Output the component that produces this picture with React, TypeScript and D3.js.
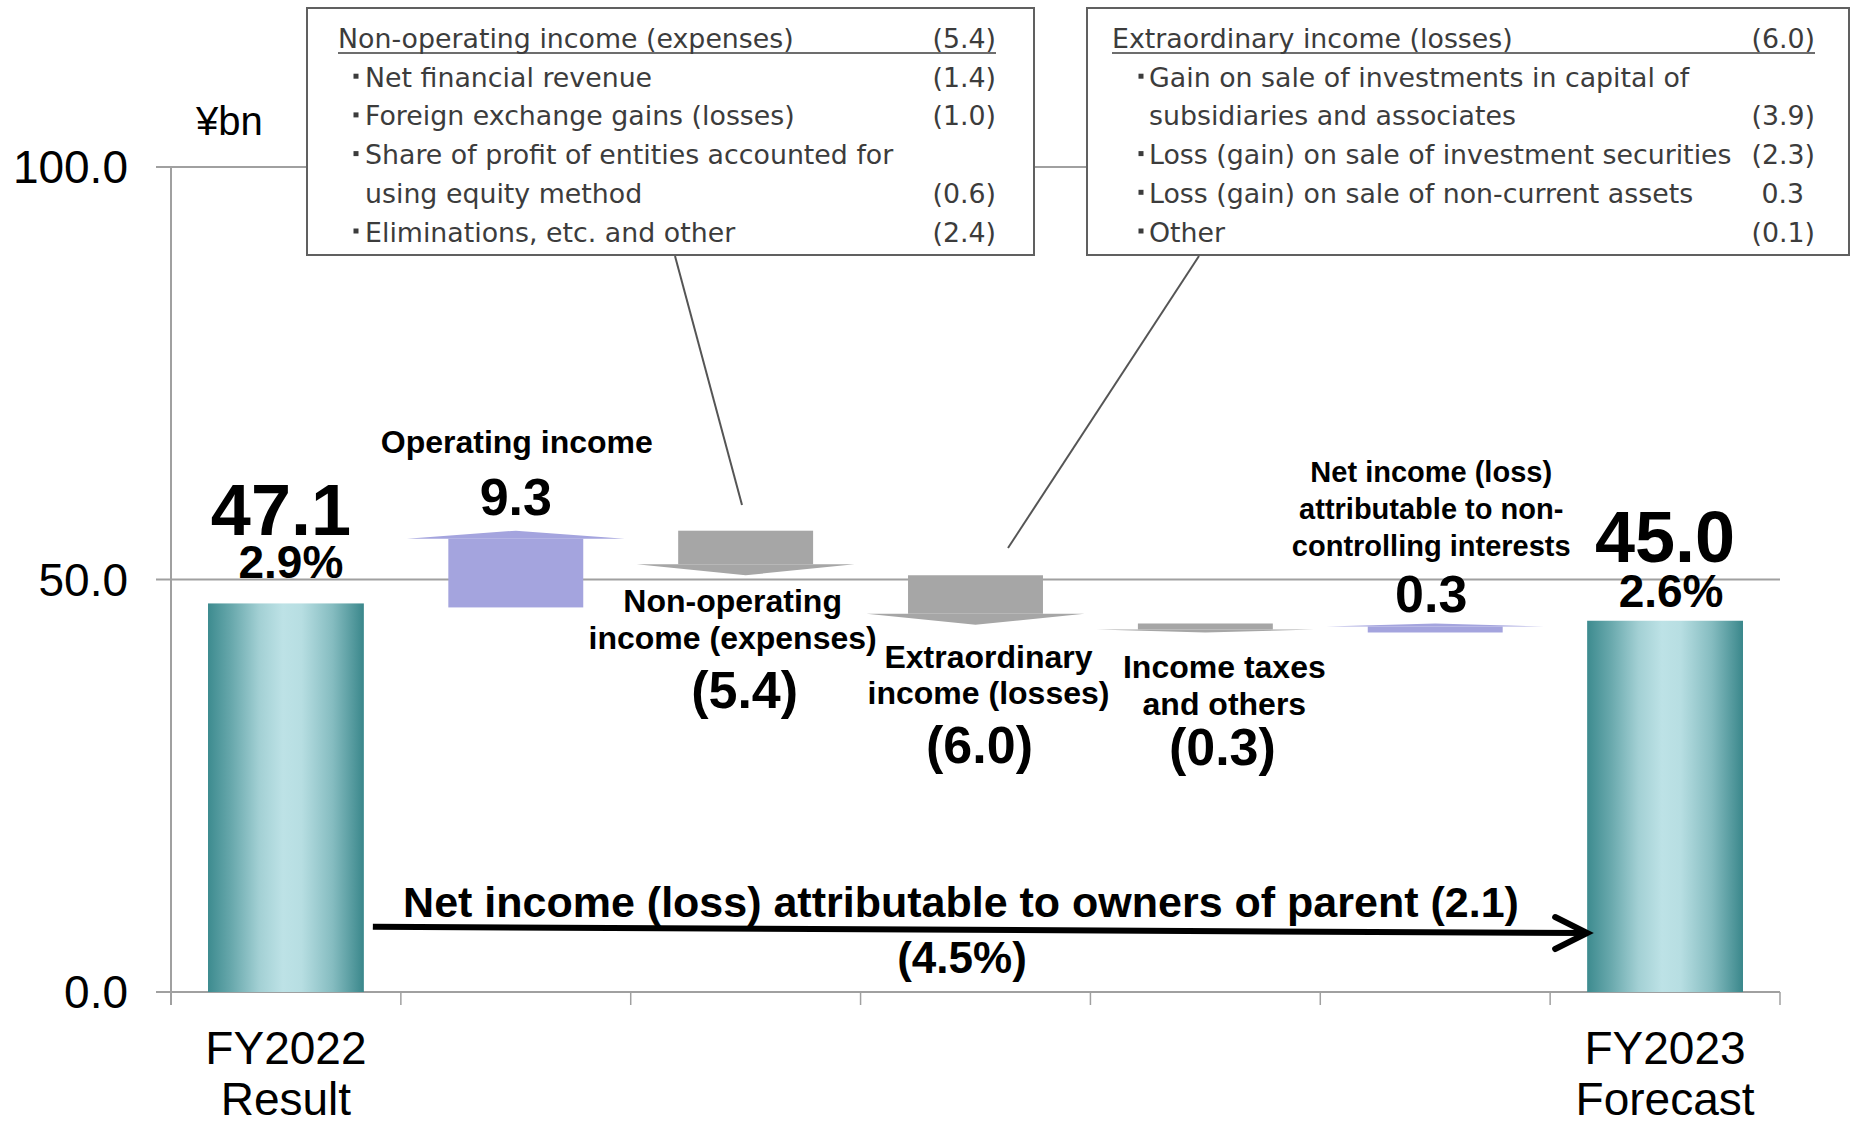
import React from "react";
import * as d3 from "d3";

// ---------- data ----------
const categories = [
  "FY2022 Result",
  "Operating income",
  "Non-operating income (expenses)",
  "Extraordinary income (losses)",
  "Income taxes and others",
  "Net income (loss) attributable to non-controlling interests",
  "FY2023 Forecast",
];
const categoryLines = [
  ["FY2022", "Result"],
  ["Operating income"],
  ["Non-operating", "income (expenses)"],
  ["Extraordinary", "income (losses)"],
  ["Income taxes", "and others"],
  ["Net income (loss)", "attributable to non-", "controlling interests"],
  ["FY2023", "Forecast"],
];
const values = [47.1, 9.3, -5.4, -6.0, -0.3, 0.3, 45.0];
const kinds = ["total", "delta", "delta", "delta", "delta", "delta", "total"];
const marginLabels = ["2.9%", "", "", "", "", "", "2.6%"];
const yTicks = [0, 50, 100];
const unitLabel = "¥bn";
const netChangeLabel = "Net income (loss) attributable to owners of parent";

const nonOpTitle = "Non-operating income (expenses)";
const nonOpTotal = "(5.4)";
const nonOpLabels = [
  "Net financial revenue",
  "Foreign exchange gains (losses)",
  "Share of profit of entities accounted for",
  "using equity method",
  "Eliminations, etc. and other",
];
const nonOpBullets = [true, true, true, false, true];
const nonOpValues = ["(1.4)", "(1.0)", "", "(0.6)", "(2.4)"];

const extraTitle = "Extraordinary income (losses)";
const extraTotal = "(6.0)";
const extraLabels = [
  "Gain on sale of investments in capital of",
  "subsidiaries and associates",
  "Loss (gain) on sale of investment securities",
  "Loss (gain) on sale of non-current assets",
  "Other",
];
const extraBullets = [true, false, true, true, true];
const extraValues = ["", "(3.9)", "(2.3)", "0.3", "(0.1)"];

// ---------- styling / layout ----------
const W = 1851;
const H = 1125;
const SANS = "'Liberation Sans', Arial, Helvetica, sans-serif";
const BOXF = "'DejaVu Sans', sans-serif";
const GRID = "#a0a0a0";
const UP = "#a4a4de";
const DOWN = "#a6a6a6";
const BOXTXT = "#3c3c3c";
const BOXFS = 26.8;

const fmtVal = (v: number) => (v < 0 ? `(${Math.abs(v).toFixed(1)})` : v.toFixed(1));

// label offsets relative to band centre / arrow end
const deltaLabelLayout: Record<number, any> = {
  1: { ndx: 1, ndy: -74, vdx: 0, vdy: -12, size: 32 },
  2: { ndx: -13, ndy: 41, vdx: -1, vdy: 137, size: 32 },
  3: { ndx: 13, ndy: 47, vdx: 4, vdy: 142, size: 32 },
  4: { ndx: 19, ndy: 55, vdx: 17, vdy: 142, size: 32 },
  5: { ndx: -4, ndy: -139, vdx: -4, vdy: -9, size: 29 },
};
const totalLabelLayout: Record<number, any> = {
  0: { vdx: -5, vdy: -68, pdx: 5, pdy: -25 },
  6: { vdx: 0, vdy: -59, pdx: 6, pdy: -14 },
};

function Box({ x0, x1, y0, y1, title, total, labels, bullets, vals, insets }: any) {
  const rowStep = 38.7;
  const headerY = y0 + 40;
  const valRight = x1 - insets.right;
  return (
    <g>
      <rect x={x0} y={y0} width={x1 - x0} height={y1 - y0} fill="#fff" stroke="#606060" strokeWidth={2} />
      <text x={x0 + insets.header} y={headerY} fontFamily={BOXF} fontSize={BOXFS} fill={BOXTXT}>{title}</text>
      <text x={valRight} y={headerY} fontFamily={BOXF} fontSize={BOXFS} fill={BOXTXT} textAnchor="end">{total}</text>
      <line x1={x0 + insets.header} x2={valRight} y1={headerY + 5} y2={headerY + 5} stroke={BOXTXT} strokeWidth={1.5} />
      {labels.map((t: string, i: number) => {
        const yy = headerY + rowStep * (i + 1);
        const v = vals[i];
        const shift = v && !v.endsWith(")") ? 11 : 0;
        return (
          <g key={i}>
            {bullets[i] && (
              <rect x={x0 + insets.bullet - 2.5} y={yy - 13} width={5} height={5} fill={BOXTXT} />
            )}
            <text x={x0 + insets.text} y={yy} fontFamily={BOXF} fontSize={BOXFS} fill={BOXTXT}>{t}</text>
            {v && (
              <text x={valRight - shift} y={yy} fontFamily={BOXF} fontSize={BOXFS} fill={BOXTXT} textAnchor="end">{v}</text>
            )}
          </g>
        );
      })}
    </g>
  );
}

export default function App() {
  const y = d3.scaleLinear().domain([0, 100]).range([992, 167]);
  const x = d3.scaleBand<string>().domain(categories).range([171, 1780]);
  const bw = x.bandwidth();
  const cxOf = (i: number) => (x(categories[i]) as number) + bw / 2;

  let run = 0;
  const steps = values.map((v, i) => {
    if (kinds[i] === "total") {
      run = v;
      return { start: 0, end: v };
    }
    const s = run;
    run = run + v;
    return { start: s, end: run };
  });

  const OFF = 4;
  const arrowShapes = steps.map((s, i) => {
    if (kinds[i] !== "delta") return null;
    const cx = cxOf(i);
    const bodyW = bw * 0.587;
    const headW = bw * 0.948;
    const up = s.end > s.start;
    const y0 = y(s.start) + OFF;
    const y1 = y(s.end) + OFF;
    const L = Math.abs(y1 - y0);
    const hh = up ? 8 : 11;
    let bodyA: number, bodyB: number, shoulder: number, tip: number;
    if (L >= hh + 6) {
      tip = y1;
      shoulder = up ? y1 + hh : y1 - hh;
      bodyA = y0;
      bodyB = shoulder;
    } else {
      const mid = (y0 + y1) / 2 + 2;
      const top = mid - 4.5;
      if (up) {
        tip = top;
        shoulder = top + 3;
        bodyA = top + 9;
        bodyB = shoulder;
      } else {
        bodyA = top;
        bodyB = top + 6;
        shoulder = bodyB;
        tip = bodyB + 3;
      }
    }
    const by0 = Math.min(bodyA, bodyB);
    const by1 = Math.max(bodyA, bodyB);
    return {
      i,
      color: up ? UP : DOWN,
      body: { x: cx - bodyW / 2, y: by0, w: bodyW, h: by1 - by0 },
      head: `M${cx - headW / 2},${shoulder}L${cx},${tip}L${cx + headW / 2},${shoulder}Z`,
    };
  });

  const netChange = values[6] - values[0];
  const netPct = (netChange / values[0]) * 100;
  const netText = `${netChangeLabel} ${fmtVal(netChange)}`;
  const netPctText = netPct < 0 ? `(${Math.abs(netPct).toFixed(1)}%)` : `${netPct.toFixed(1)}%`;

  const barW = bw * 0.678;
  const axisLeft = 171;
  const axisRight = 1780;

  // bottom connecting arrow
  const arrX0 = cxOf(0) + barW / 2 + 9;
  const arrX1 = cxOf(6) - barW / 2;
  const arrY0 = y(7.9);
  const arrY1 = y(7.15);

  return (
    <svg width={W} height={H} style={{ position: "absolute", left: 0, top: 0, display: "block", background: "#fff" }}>
      <defs>
        <linearGradient id="tealGrad" x1="0" x2="1" y1="0" y2="0">
          <stop offset="0" stopColor="#3d8b8f" />
          <stop offset="0.15" stopColor="#68a8ac" />
          <stop offset="0.33" stopColor="#a3d0d4" />
          <stop offset="0.48" stopColor="#bde2e6" />
          <stop offset="0.6" stopColor="#b7dee2" />
          <stop offset="0.8" stopColor="#85bcc0" />
          <stop offset="1" stopColor="#3a878b" />
        </linearGradient>
      </defs>

      {/* gridlines */}
      {yTicks.map((t) => (
        <line key={t} x1={156} x2={axisRight} y1={y(t)} y2={y(t)} stroke={GRID} strokeWidth={2} />
      ))}
      <line x1={axisLeft} x2={axisLeft} y1={y(100)} y2={y(0) + 13} stroke={GRID} strokeWidth={2} />
      {d3.range(categories.length + 1).map((k) => {
        const xx = k < categories.length ? (x(categories[k]) as number) : axisRight;
        return <line key={k} x1={xx} x2={xx} y1={y(0)} y2={y(0) + 13} stroke={GRID} strokeWidth={1.5} />;
      })}
      {yTicks.map((t) => (
        <text key={t} x={128} y={y(t) + 16} textAnchor="end" fontFamily={SANS} fontSize={46} fill="#000">
          {d3.format(".1f")(t)}
        </text>
      ))}
      <text x={196} y={135} fontFamily={SANS} fontSize={40} fill="#000">{unitLabel}</text>

      {/* total bars */}
      {steps.map((s, i) =>
        kinds[i] === "total" ? (
          <rect key={i} x={cxOf(i) - barW / 2} y={y(s.end)} width={barW} height={y(0) - y(s.end)} fill="url(#tealGrad)" />
        ) : null
      )}

      {/* delta arrows */}
      {arrowShapes.map((a) =>
        a ? (
          <g key={a.i}>
            <rect x={a.body.x} y={a.body.y} width={a.body.w} height={a.body.h} fill={a.color} />
            <path d={a.head} fill={a.color} />
          </g>
        ) : null
      )}

      {/* callout boxes */}
      <line x1={675} y1={256} x2={742} y2={505} stroke="#555" strokeWidth={2} />
      <line x1={1199} y1={256} x2={1008} y2={548} stroke="#555" strokeWidth={2} />
      <Box x0={307} x1={1034} y0={8} y1={255} title={nonOpTitle} total={nonOpTotal} labels={nonOpLabels}
        bullets={nonOpBullets} vals={nonOpValues} insets={{ header: 31, bullet: 49, text: 58, right: 38 }} />
      <Box x0={1087} x1={1849} y0={8} y1={255} title={extraTitle} total={extraTotal} labels={extraLabels}
        bullets={extraBullets} vals={extraValues} insets={{ header: 25, bullet: 54, text: 62, right: 34 }} />

      {/* total labels */}
      {steps.map((s, i) => {
        if (kinds[i] !== "total") return null;
        const L = totalLabelLayout[i];
        const cx = cxOf(i);
        return (
          <g key={i} fontFamily={SANS} fontWeight="bold" fill="#000" textAnchor="middle">
            <text x={cx + L.vdx} y={y(s.end) + L.vdy} fontSize={72}>{values[i].toFixed(1)}</text>
            <text x={cx + L.pdx} y={y(s.end) + L.pdy} fontSize={46}>{marginLabels[i]}</text>
          </g>
        );
      })}

      {/* delta labels */}
      {steps.map((s, i) => {
        if (kinds[i] !== "delta") return null;
        const L = deltaLabelLayout[i];
        const cx = cxOf(i);
        const ey = y(s.end);
        const lh = L.size === 29 ? 37 : 36.6;
        return (
          <g key={i} fontFamily={SANS} fontWeight="bold" fill="#000" textAnchor="middle">
            <text x={cx + L.ndx} y={ey + L.ndy} fontSize={L.size}>
              {categoryLines[i].map((ln, k) => (
                <tspan key={k} x={cx + L.ndx} dy={k === 0 ? 0 : lh}>{ln}</tspan>
              ))}
            </text>
            <text x={cx + L.vdx} y={ey + L.vdy} fontSize={52}>{fmtVal(values[i])}</text>
          </g>
        );
      })}

      {/* x axis labels */}
      {[0, 6].map((i) => (
        <text key={i} x={cxOf(i)} y={1064} textAnchor="middle" fontFamily={SANS} fontSize={46} fill="#000">
          {categoryLines[i].map((ln, k) => (
            <tspan key={k} x={cxOf(i)} dy={k === 0 ? 0 : 51}>{ln}</tspan>
          ))}
        </text>
      ))}

      {/* net change arrow */}
      <line x1={arrX0} y1={arrY0} x2={arrX1 - 2} y2={arrY1} stroke="#000" strokeWidth={6} />
      <polyline
        points={`${arrX1 - 32},${arrY1 - 16} ${arrX1},${arrY1} ${arrX1 - 32},${arrY1 + 16}`}
        fill="none" stroke="#000" strokeWidth={6} strokeLinecap="round" strokeLinejoin="miter"
      />
      <text x={961} y={917} textAnchor="middle" fontFamily={SANS} fontWeight="bold" fontSize={43} fill="#000">{netText}</text>
      <text x={962} y={973} textAnchor="middle" fontFamily={SANS} fontWeight="bold" fontSize={44} fill="#000">{netPctText}</text>
    </svg>
  );
}
